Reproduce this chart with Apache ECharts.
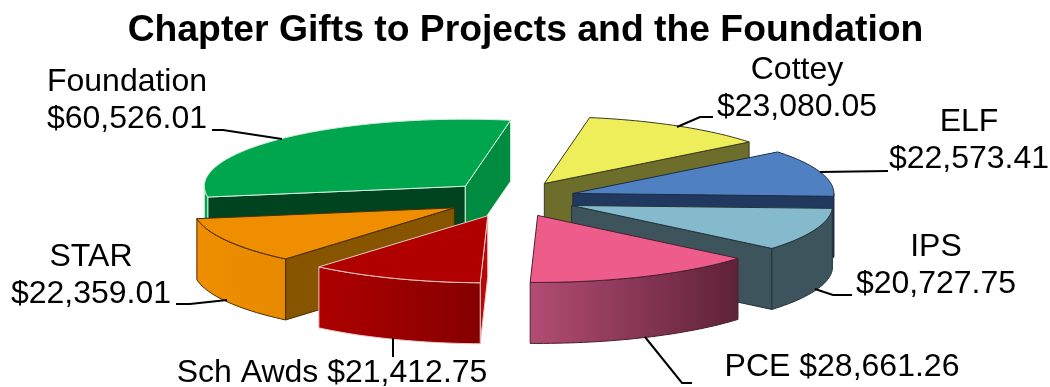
<!DOCTYPE html>
<html><head><meta charset="utf-8">
<style>html,body{margin:0;padding:0;background:#fff}#c{width:1050px;height:387px}</style>
<script src="https://cdn.jsdelivr.net/npm/echarts@6/dist/echarts.min.js"></script>
</head><body><div id="c"></div>
<script>
const titleText = 'Chapter Gifts to Projects and the Foundation';
// clockwise from the start angle
const categories = ['Cottey','ELF','IPS','PCE','Sch Awds','STAR','Foundation'];
const values = [23080.05,22573.41,20727.75,28661.26,21412.75,22359.01,60526.01];
const topColors = ['#EEEE5A','#4F81C2','#85BACC','#EE5C8C','#B00000','#EE8E00','#00A64E'];
const startWallColors = ['#6E6E2C','#22395F','#3D545C','#60243A','#B00000','#875400','#008C40'];
const endWallColors = ['#6E6E2C','#22395F','#3D545C','#60243A','#B80808','#875400','#00431F'];
const rimFrom = ['#6E6E2C','#22395F','#3D545C','#B34C74','#AE0000','#EE8E00','#00A64E'];
const rimTo = ['#6E6E2C','#22395F','#3D545C','#5E2238','#850000','#E88A00','#00A64E'];
const edgeColors = ['#3a3a20','#1d2c44','#22343a','#4a2030','#e8c8c8','#4a2d00','#d8ecdf'];
const paintRank = [1,2,3,5,6,4,0];

const CX=511, CY=199, RX=261, RY=67, DEPTH=61, EX=65, EY=18, START=80;
const total = values.reduce((a,b)=>a+b,0);
const rad = d=>d*Math.PI/180;
let cum = 0;
const spans = values.map(v=>{const hi=START-cum/total*360; cum+=v; return {lo:START-cum/total*360, hi};});

function renderItem(params, api){
  const i = params.dataIndex, s = spans[i], mid = rad((s.lo+s.hi)/2);
  const ax = CX+EX*Math.cos(mid), ay = CY-EY*Math.sin(mid);
  const pt = (deg,dz=0)=>[ax+RX*Math.cos(rad(deg)), ay-RY*Math.sin(rad(deg))+dz];
  const z = paintRank[i]*10, kids = [];
  const arc = (a,b,dz=0)=>{const p=[],n=Math.max(4,Math.ceil(Math.abs(b-a)/1.5));for(let k=0;k<=n;k++)p.push(pt(a+(b-a)*k/n,dz));return p;};
  const stroke = {stroke:edgeColors[i],lineWidth:1,lineJoin:'round'};
  const poly = (points,fill,zz)=>kids.push({type:'polygon',shape:{points},style:{fill,...stroke},z2:z+zz,silent:true});
  const wall = (deg,fill,zz)=>poly([[ax,ay],pt(deg),pt(deg,DEPTH),[ax,ay+DEPTH]],fill,zz);
  if(Math.cos(rad(s.hi))<0) wall(s.hi,endWallColors[i],1);
  if(Math.cos(rad(s.lo))>0) wall(s.lo,startWallColors[i],1);
  // front rim: the part of the arc that faces the viewer (angles between -180 and 0)
  const p=Math.max(s.lo,-180), q=Math.min(s.hi,0);
  if(q>p) poly(arc(p,q).concat(arc(q,p,DEPTH)), new echarts.graphic.LinearGradient(0,0,1,0,[{offset:0,color:rimFrom[i]},{offset:1,color:rimTo[i]}]),2);
  poly([[ax,ay]].concat(arc(s.lo,s.hi)),topColors[i],3);
  return {type:'group',children:kids};
}

const F = "'Liberation Sans',Arial,sans-serif";
const labelTexts = [
  ['Foundation\n$60,526.01',127,101],['Cottey\n$23,080.05',797,89],['ELF\n$22,573.41',969,141],
  ['IPS\n$20,727.75',936,266],['STAR\n$22,359.01',91,276],['Sch Awds $21,412.75',332,373],['PCE $28,661.26',842,367]
];
const leaders = [
  [[212,130],[223,130],[282,139]],[[713,117],[700,117],[677,127]],[[888,171],[820,172]],
  [[815,289],[833,295],[852,295]],[[176,304],[190,304],[227,300]],[[393,338],[393,357]],[[645,337],[682,383],[692,383]]
];
const graphic = [
  ...leaders.map(points=>({type:'polyline',shape:{points},style:{stroke:'#000',lineWidth:2,fill:null},z:5})),
  ...labelTexts.map(([text,x,y])=>({type:'text',x,y,style:{text,fill:'#000',font:`32px ${F}`,align:'center',verticalAlign:'middle',lineHeight:37},z:6}))
];

const chart = echarts.init(document.getElementById('c'),null,{renderer:'canvas'});
chart.setOption({
  animation:false,
  backgroundColor:'#fff',
  title:{text:titleText,left:525,top:7,textAlign:'center',textStyle:{fontFamily:F,fontWeight:'bold',fontSize:37.3,color:'#000'}},
  graphic:graphic,
  series:[{type:'custom',coordinateSystem:'none',renderItem,silent:true,
    data:categories.map((name,i)=>({name,value:[values[i]]}))}]
});
chart.setOption({title:{left:520.5}});
</script></body></html>
